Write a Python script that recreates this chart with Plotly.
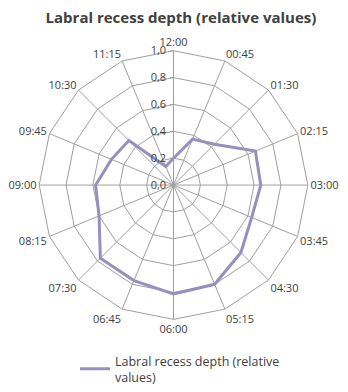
import plotly.graph_objects as go

categories = ["12:00", "00:45", "01:30", "02:15", "03:00", "03:45", "04:30", "05:15",
              "06:00", "06:45", "07:30", "08:15", "09:00", "09:45", "10:30", "11:15"]
depth = [0.20, 0.37, 0.43, 0.66, 0.65, 0.63, 0.71, 0.80,
         0.81, 0.77, 0.77, 0.60, 0.58, 0.50, 0.47, 0.15]
radial_ticks = [0.0, 0.2, 0.4, 0.6, 0.8, 1.0]
series_name = "Labral recess depth (relative<br>values)"
title_text = "Labral recess depth (relative values)"

fig = go.Figure()
fig.add_trace(go.Scatterpolar(
    r=depth + depth[:1],
    theta=categories + categories[:1],
    mode="lines",
    name=series_name,
    line=dict(color="#9590bd", width=3),
))

W, H = 348, 392
cx, cy, R = 173.5, 186.0, 135.0
fig.update_layout(
    width=W, height=H,
    margin=dict(l=0, r=0, t=0, b=0),
    paper_bgcolor="white",
    plot_bgcolor="white",
    separators=", ",
    font=dict(family="Open Sans, Lato, sans-serif", color="#404040", size=11),
    title=dict(text="<b>" + title_text + "</b>", x=0.52, xanchor="center",
               y=1 - 18 / H, yanchor="middle",
               font=dict(size=15, color="#404040", family="Open Sans, sans-serif")),
    showlegend=True,
    legend=dict(x=75 / W, xanchor="left", y=1 - 348 / H, yanchor="top",
                font=dict(size=12.5, color="#404040"), bgcolor="rgba(0,0,0,0)"),
    polar=dict(
        domain=dict(x=[(cx - R) / W, (cx + R) / W], y=[1 - (cy + R) / H, 1 - (cy - R) / H]),
        bgcolor="white",
        gridshape="linear",
        angularaxis=dict(
            direction="clockwise", rotation=90, type="category",
            categoryarray=categories,
            showline=True, linecolor="#a0a0a0", linewidth=1,
            gridcolor="#a0a0a0", gridwidth=1,
            ticks="", tickfont=dict(size=11, color="#404040"),
        ),
        radialaxis=dict(
            range=[0, 1], tickvals=radial_ticks, tickformat=".1f",
            angle=90, tickangle=90, side="counterclockwise",
            showline=True, linecolor="#a0a0a0", linewidth=1,
            gridcolor="#a0a0a0", gridwidth=1,
            ticks="outside", ticklen=3, tickcolor="#a0a0a0",
            tickfont=dict(size=11, color="#404040"),
        ),
    ),
)

fig.write_html("out.html")
